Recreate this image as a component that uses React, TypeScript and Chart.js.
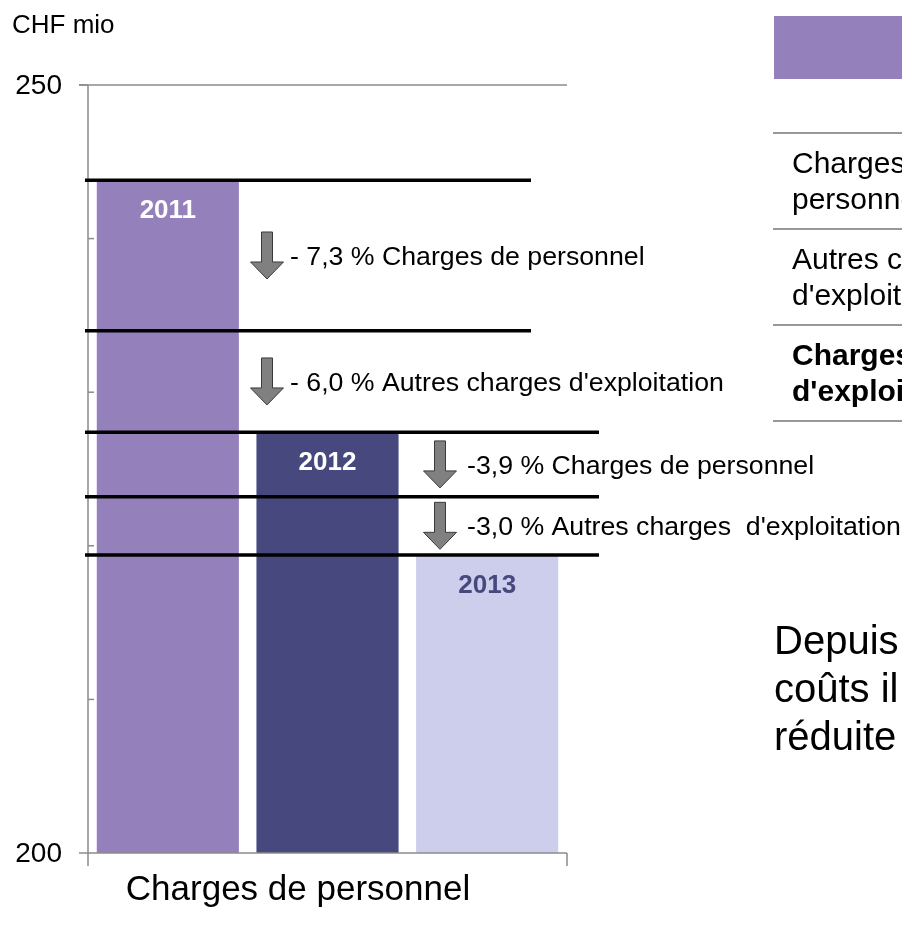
import React, { useEffect, useRef } from "react";
import { Chart, registerables } from "chart.js";

Chart.register(...registerables);

// ---- data ----
const categories = ["Charges de personnel"];
const years = ["2011", "2012", "2013"];
const values = [243.8, 227.4, 219.4];
const barColors = ["#9480BA", "#46487E", "#CDCDEC"];
const yearLabelColors = ["#FFFFFF", "#FFFFFF", "#46487E"];
const stepLevels = [243.8, 234.0, 227.4, 223.2, 219.4];
const changeLabels = [
  "- 7,3 % Charges de personnel",
  "- 6,0 % Autres charges d'exploitation",
  "-3,9 % Charges de personnel",
  "-3,0 % Autres charges  d'exploitation",
];
const yTickValues = [200, 210, 220, 230, 240, 250];
const yTickLabels = ["200", "", "", "", "", "250"];
const unitLabel = "CHF mio";
const tableRows = [
  ["Charges de", "personnel"],
  ["Autres charges", "d'exploitation"],
  ["Charges", "d'exploitation"],
];
const noteLines = ["Depuis", "coûts il", "réduite"];

const FONT = "'Liberation Sans', Arial, Helvetica, sans-serif";

function drawDownArrow(ctx: CanvasRenderingContext2D, cx: number, cy: number) {
  const h = 47;
  const headH = 17;
  const shaftW = 5.5;
  const headW = 16.5;
  const top = cy - h / 2;
  const bot = cy + h / 2;
  ctx.save();
  ctx.beginPath();
  ctx.moveTo(cx - shaftW, top);
  ctx.lineTo(cx + shaftW, top);
  ctx.lineTo(cx + shaftW, bot - headH);
  ctx.lineTo(cx + headW, bot - headH);
  ctx.lineTo(cx, bot);
  ctx.lineTo(cx - headW, bot - headH);
  ctx.lineTo(cx - shaftW, bot - headH);
  ctx.closePath();
  ctx.fillStyle = "#808080";
  ctx.fill();
  ctx.strokeStyle = "#3a3a3a";
  ctx.lineWidth = 1;
  ctx.stroke();
  ctx.restore();
}

const overlayPlugin = {
  id: "overlay",
  afterDraw(chart: any) {
    const ctx: CanvasRenderingContext2D = chart.ctx;
    const y = chart.scales.y;
    const area = chart.chartArea;
    const axisColor = "#8c8c8c";
    ctx.save();

    // axes
    ctx.strokeStyle = axisColor;
    ctx.lineWidth = 1.5;
    ctx.beginPath();
    ctx.moveTo(area.left, y.getPixelForValue(250));
    ctx.lineTo(area.left, area.bottom);
    ctx.lineTo(area.right, area.bottom);
    ctx.moveTo(area.left - 9, y.getPixelForValue(250));
    ctx.lineTo(area.right, y.getPixelForValue(250));
    ctx.moveTo(area.left, area.bottom);
    ctx.lineTo(area.left, area.bottom + 13);
    ctx.moveTo(area.right, area.bottom);
    ctx.lineTo(area.right, area.bottom + 13);
    ctx.stroke();

    // y ticks + labels
    ctx.fillStyle = "#000";
    ctx.font = `28px ${FONT}`;
    ctx.textAlign = "right";
    ctx.textBaseline = "middle";
    yTickValues.forEach((v, i) => {
      const py = y.getPixelForValue(v);
      if (yTickLabels[i]) {
        ctx.beginPath();
        ctx.moveTo(area.left - 9, py);
        ctx.lineTo(area.left, py);
        ctx.stroke();
        ctx.fillText(yTickLabels[i], 62, py + 1);
      } else {
        ctx.beginPath();
        ctx.moveTo(area.left, py);
        ctx.lineTo(area.left + 6, py);
        ctx.stroke();
      }
    });

    // unit label
    ctx.textAlign = "left";
    ctx.font = `26px ${FONT}`;
    ctx.fillText(unitLabel, 12, 26);

    // category label
    ctx.textAlign = "center";
    ctx.font = `35px ${FONT}`;
    ctx.fillText(categories[0], 298, 890);

    // year labels in bars
    ctx.font = `bold 26px ${FONT}`;
    years.forEach((yr, i) => {
      const bar = chart.getDatasetMeta(i).data[0];
      ctx.fillStyle = yearLabelColors[i];
      ctx.fillText(yr, bar.x, bar.y + 31);
    });

    // step lines
    ctx.strokeStyle = "#000";
    ctx.lineWidth = 3.5;
    stepLevels.forEach((lv, i) => {
      const py = y.getPixelForValue(lv);
      ctx.beginPath();
      ctx.moveTo(area.left - 3, py);
      ctx.lineTo(i < 2 ? 531 : 599, py);
      ctx.stroke();
    });

    // arrows + change labels
    ctx.font = `26.7px ${FONT}`;
    ctx.textAlign = "left";
    ctx.fillStyle = "#000";
    changeLabels.forEach((t, i) => {
      const mid = (y.getPixelForValue(stepLevels[i]) + y.getPixelForValue(stepLevels[i + 1])) / 2;
      const ax = i < 2 ? 267 : 440;
      const tx = i < 2 ? 290 : 467;
      drawDownArrow(ctx, ax, mid);
      ctx.fillStyle = "#000";
      ctx.fillText(t, tx, mid + 2);
    });

    // right-side table
    ctx.fillStyle = barColors[0];
    ctx.fillRect(774, 16, 140, 63);
    ctx.strokeStyle = "#333";
    ctx.lineWidth = 1.2;
    [133, 229, 325, 421].forEach((ly) => {
      ctx.beginPath();
      ctx.moveTo(773, ly);
      ctx.lineTo(902, ly);
      ctx.stroke();
    });
    ctx.fillStyle = "#000";
    tableRows.forEach((row, r) => {
      ctx.font = `${r === 2 ? "bold " : ""}30px ${FONT}`;
      row.forEach((line, k) => {
        ctx.fillText(line, 792, 165 + r * 96 + k * 36);
      });
    });

    // note
    ctx.font = `40px ${FONT}`;
    noteLines.forEach((line, k) => {
      ctx.fillText(line, 774, 643 + k * 48);
    });

    ctx.restore();
  },
};

export default function App() {
  const ref = useRef<HTMLCanvasElement | null>(null);
  useEffect(() => {
    document.body.style.margin = "0";
    const canvas = ref.current!;
    const chart = new Chart(canvas, {
      type: "bar",
      data: {
        labels: categories,
        datasets: years.map((yr, i) => ({
          label: yr,
          data: [values[i]],
          backgroundColor: barColors[i],
          borderWidth: 0,
          categoryPercentage: 1,
          barPercentage: 0.89,
        })),
      },
      options: {
        responsive: false,
        animation: false,
        layout: { padding: { top: 85, right: 335, left: 0, bottom: 0 } },
        plugins: { legend: { display: false }, tooltip: { enabled: false } },
        scales: {
          x: {
            display: true,
            grid: { display: false },
            border: { display: false },
            ticks: { display: false },
            afterFit: (s: any) => {
              s.height = 73;
            },
          },
          y: {
            display: true,
            min: 200,
            max: 250,
            grid: { display: false },
            border: { display: false },
            ticks: { display: false, stepSize: 10 },
            afterFit: (s: any) => {
              s.width = 88;
            },
          },
        },
      },
      plugins: [overlayPlugin],
    });
    return () => chart.destroy();
  }, []);
  return (
    <canvas
      ref={ref}
      width={902}
      height={926}
      style={{ display: "block", width: 902, height: 926 }}
    />
  );
}
